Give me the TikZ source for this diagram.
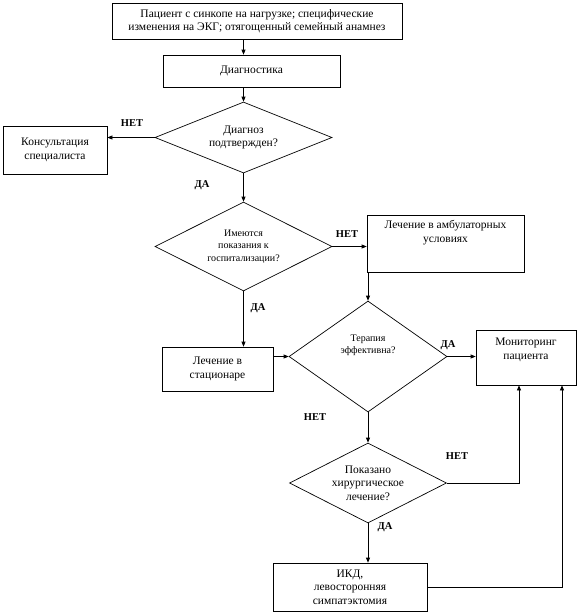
\documentclass[tikz,border=0pt]{standalone}
\usepackage{fontspec}
\setmainfont{Liberation Serif}
\usetikzlibrary{arrows.meta,positioning,shapes.geometric}

\begin{document}
\begin{tikzpicture}[
  x=1pt, y=-1pt, >={Triangle[length=5pt,width=4pt]},
  line width=0.7pt,
  font=\fontsize{11.5}{13.5}\selectfont,
  blk/.style={draw, rectangle, align=center, inner sep=2pt},
  ques/.style={draw, diamond, aspect=2, align=center, inner sep=0pt},
  small/.style={font=\fontsize{10}{12.5}\selectfont},
  yn/.style={font=\fontsize{10.5}{12}\selectfont\bfseries},
]
\useasboundingbox (0,0) rectangle (578,614);
% ---------------- boxes ----------------
\node[blk, minimum width=290pt, minimum height=36pt] (start) at (257,21)
  {Пациент с синкопе на нагрузке; специфические\\изменения на ЭКГ; отягощенный семейный анамнез};
\node[blk, minimum width=177pt, minimum height=32pt] (diag) at (251.5,71) {Диагностика};
\node[ques, minimum width=177pt, minimum height=71pt] (q1) at (243.5,137.5)
  {Диагноз\\подтвержден?};
\node[blk, minimum width=104pt, minimum height=48pt] (consult) at (55,150)
  {Консультация\\специалиста};
\node[ques, small, minimum width=177pt, minimum height=89pt] (q2) at (243.5,246.5)
  {Имеются\\показания к\\госпитализации?};
\node[blk, minimum width=157pt, minimum height=57pt, text depth=24pt] (amb) at (445.5,243.5)
  {Лечение в амбулаторных\\условиях};
\node[blk, minimum width=111pt, minimum height=44pt] (hosp) at (217.5,369)
  {Лечение в\\стационаре};
\node[ques, small, minimum width=158pt, minimum height=111pt] (q3) at (368,356.5)
  {Терапия\\эффективна?\\[12pt]\mbox{}};
\node[blk, minimum width=100pt, minimum height=55pt, text depth=18pt] (mon) at (526,357.5)
  {Мониторинг\\пациента};
\node[ques, minimum width=157pt, minimum height=80pt] (q4) at (368,483)
  {Показано\\хирургическое\\лечение?};
\node[blk, minimum width=154pt, minimum height=48pt] (icd) at (350,587)
  {ИКД,\\левосторонняя\\симпатэктомия};

% ---------------- connectors ----------------
\draw[->] (start.south -| q1.north) -- (diag.north -| q1.north);
\draw[->] (diag.south -| q1.north) -- (q1.north);
\draw[->] (q1.west) -- (q1.west -| consult.east);
\draw[->] (q1.south) -- (q2.north);
\draw[->] (q2.east) -- (q2.east -| amb.west);
\draw[->] (q2.south) -- (q2.south |- hosp.north);
\draw[->] (amb.south -| q3.north) -- (q3.north);
\draw[->] (hosp.east |- q3.west) -- (q3.west);
\draw[->] (q3.east) -- (q3.east -| mon.west);
\draw[->] (q3.south) -- (q4.north);
\draw[->] (q4.south) -- (q4.south |- icd.north);
\draw[->] (q4.east) -| ([xshift=-7pt]mon.south);
\draw[->] (icd.east) -| ([xshift=36pt]mon.south);

% ---------------- labels ----------------
\node[yn] (n1) at (132,123) {НЕТ};
\node[yn] (y1) at (202,185) {ДА};
\node[yn] (n2) at (347,234) {НЕТ};
\node[yn] (y2) at (258,308) {ДА};
\node[yn] (y3) at (448,345) {ДА};
\node[yn] (n3) at (315,417) {НЕТ};
\node[yn] (n4) at (457,456) {НЕТ};
\node[yn] (y4) at (385,527) {ДА};
\end{tikzpicture}
\end{document}
